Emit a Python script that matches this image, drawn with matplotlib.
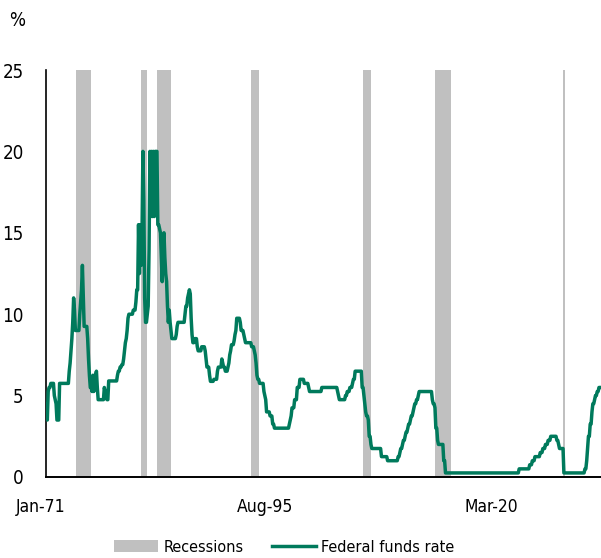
import matplotlib
matplotlib.use('Agg')
import matplotlib.pyplot as plt
import matplotlib.transforms as mtransforms
from matplotlib.patches import Patch
from matplotlib.lines import Line2D
import numpy as np
import pandas as pd

plt.rcParams['font.family'] = ['DejaVu Sans']
plt.rcParams['font.stretch'] = 'condensed'

GREEN = '#007A5C'
GREY = '#C0C0C0'

# fed funds rate: month of each change and the new level (%)
change_dates = [
    '1971-01', '1971-02', '1971-03', '1971-04', '1971-06', '1971-10', '1971-11', '1971-12',
    '1972-01', '1972-04',
    '1973-03', '1973-04', '1973-05', '1973-06', '1973-07', '1973-08', '1973-09', '1973-10',
    '1974-03', '1974-04', '1974-05', '1974-06', '1974-07', '1974-08', '1974-12',
    '1975-01', '1975-02', '1975-03', '1975-05', '1975-06', '1975-07', '1975-08', '1975-09',
    '1975-10', '1975-11', '1975-12',
    '1976-07', '1976-08', '1976-10', '1976-12',
    '1977-10', '1977-11',
    '1978-01', '1978-03', '1978-05', '1978-06', '1978-07', '1978-08', '1978-09', '1978-10', '1978-11',
    '1979-04', '1979-07', '1979-08', '1979-10', '1979-11', '1979-12',
    '1980-01', '1980-02', '1980-03', '1980-04', '1980-05', '1980-06', '1980-08', '1980-09',
    '1980-10', '1980-11', '1980-12',
    '1981-01', '1981-02', '1981-03', '1981-04', '1981-05', '1981-08', '1981-10', '1981-11', '1981-12',
    '1982-01', '1982-02', '1982-03', '1982-04', '1982-05', '1982-06', '1982-07', '1982-08',
    '1982-09', '1982-10', '1982-11', '1982-12',
    '1983-05', '1983-06', '1983-07',
    '1984-03', '1984-04', '1984-06', '1984-07', '1984-08', '1984-09', '1984-10', '1984-11', '1984-12',
    '1985-02', '1985-05', '1985-06', '1985-10',
    '1986-02', '1986-03', '1986-04', '1986-07', '1986-08', '1986-12',
    '1987-04', '1987-05', '1987-09', '1987-10', '1987-11',
    '1988-01', '1988-04', '1988-05', '1988-06', '1988-07', '1988-08', '1988-11', '1988-12',
    '1989-01', '1989-02', '1989-06', '1989-07', '1989-10', '1989-11', '1989-12',
    '1990-07', '1990-10', '1990-11', '1990-12',
    '1991-01', '1991-02', '1991-04', '1991-09', '1991-10', '1991-11', '1991-12',
    '1992-04', '1992-07', '1992-09',
    '1994-02', '1994-03', '1994-04', '1994-05', '1994-08', '1994-11',
    '1995-02', '1995-07', '1995-12',
    '1996-01', '1997-03',
    '1998-09', '1998-10', '1998-11',
    '1999-06', '1999-08', '1999-11',
    '2000-02', '2000-03', '2000-05',
    '2001-01', '2001-03', '2001-04', '2001-05', '2001-06', '2001-08', '2001-09', '2001-11', '2001-12',
    '2002-11', '2003-06',
    '2004-06', '2004-08', '2004-09', '2004-11', '2004-12',
    '2005-02', '2005-03', '2005-05', '2005-06', '2005-08', '2005-09', '2005-11', '2005-12',
    '2006-01', '2006-03', '2006-05', '2006-06',
    '2007-09', '2007-10', '2007-12',
    '2008-01', '2008-03', '2008-04', '2008-10', '2008-12',
    '2015-12', '2016-12',
    '2017-03', '2017-06', '2017-12',
    '2018-03', '2018-06', '2018-09', '2018-12',
    '2019-07', '2019-09', '2019-10',
    '2020-03',
    '2022-03', '2022-05', '2022-06', '2022-07', '2022-09', '2022-11', '2022-12',
    '2023-02', '2023-03', '2023-05', '2023-07',
]
change_rates = [
    4.5, 3.5, 5.25, 5.5, 5.75, 5.0, 4.75, 4.5,
    3.5, 5.75,
    6.5, 7.0, 7.75, 8.5, 9.5, 11.0, 10.25, 9.0,
    10.0, 10.75, 11.5, 13.0, 11.0, 9.25, 8.5,
    7.25, 6.25, 5.5, 5.25, 6.25, 5.25, 5.5, 6.25,
    6.5, 5.5, 4.75,
    5.5, 5.25, 4.75, 5.9,
    6.25, 6.5,
    6.75, 6.9, 7.25, 7.75, 8.25, 8.5, 9.0, 9.75, 10.0,
    10.25, 10.75, 11.5, 15.5, 12.5, 15.5,
    13.0, 15.0, 20.0, 17.0, 11.0, 9.5, 10.0, 10.5,
    14.0, 20.0, 16.0,
    20.0, 16.0, 20.0, 16.0, 20.0, 15.5, 15.25, 15.0, 13.5,
    12.0, 14.0, 15.0, 13.5, 12.5, 12.0, 10.5, 9.5,
    10.25, 9.5, 9.0, 8.5,
    8.75, 9.25, 9.5,
    10.0, 10.5, 11.0, 11.25, 11.5, 11.25, 9.75, 8.75, 8.25,
    8.5, 8.0, 7.75, 8.0,
    7.75, 7.25, 6.75, 6.25, 5.875, 6.0,
    6.5, 6.75, 7.25, 7.0, 6.75,
    6.5, 6.75, 7.0, 7.5, 7.75, 8.125, 8.375, 8.75,
    9.0, 9.75, 9.5, 9.0, 8.75, 8.5, 8.25,
    8.0, 7.75, 7.5, 7.0,
    6.25, 6.0, 5.75, 5.25, 5.0, 4.75, 4.0,
    3.75, 3.25, 3.0,
    3.25, 3.5, 3.75, 4.25, 4.75, 5.5,
    6.0, 5.75, 5.5,
    5.25, 5.5,
    5.25, 5.0, 4.75,
    5.0, 5.25, 5.5,
    5.75, 6.0, 6.5,
    5.5, 5.0, 4.5, 4.0, 3.75, 3.5, 2.5, 2.0, 1.75,
    1.25, 1.0,
    1.25, 1.5, 1.75, 2.0, 2.25,
    2.5, 2.75, 3.0, 3.25, 3.5, 3.75, 4.0, 4.25,
    4.5, 4.75, 5.0, 5.25,
    4.75, 4.5, 4.25,
    3.0, 2.25, 2.0, 1.0, 0.25,
    0.5, 0.75,
    1.0, 1.25, 1.5,
    1.75, 2.0, 2.25, 2.5,
    2.25, 2.0, 1.75,
    0.25,
    0.5, 1.0, 1.75, 2.5, 3.25, 4.0, 4.5,
    4.75, 5.0, 5.25, 5.5,
]
last_month = '2023-08'

# NBER recessions (first and last month)
rec_start = ['1973-11', '1980-01', '1981-07', '1990-07', '2001-03', '2007-12', '2020-02']
rec_end = ['1975-03', '1980-07', '1982-11', '1991-03', '2001-11', '2009-06', '2020-04']

tick_labels = ['Jan-71', 'Aug-95', 'Mar-20']
tick_pos = [-7, 249, 507]


def month_idx(s):
    t = pd.Timestamp(s)
    return (t.year - 1971) * 12 + t.month - 1


months = pd.date_range('1971-01-01', last_month + '-01', freq='MS')
rate = pd.Series(change_rates, index=pd.to_datetime(change_dates))
rate = rate.reindex(months, method='ffill')
x = np.arange(len(months))

fig = plt.figure(figsize=(6.01, 5.58), dpi=100)
ax = fig.add_axes([46 / 601, 1 - 477 / 558, 1 - 46 / 601, (477 - 70) / 558])

for s, e in zip(rec_start, rec_end):
    i0, i1 = month_idx(s), month_idx(e)
    ax.bar(i0 - 0.5, 25, width=i1 - i0 + 1, align='edge', color=GREY, lw=0, zorder=1)

ax.plot(x, rate.values, color=GREEN, lw=2.5, solid_joinstyle='round', zorder=3)

ax.set_xlim(-0.5, 632.3)
ax.set_ylim(0, 25)
ax.set_yticks(range(0, 26, 5))
ax.set_xticks([])
ax.tick_params(axis='y', length=0, labelsize=13.5, pad=16)

# category labels sit below the axis; the first one hangs left of the spine
xlab = mtransforms.blended_transform_factory(ax.transData, ax.transAxes)
for p, lab in zip(tick_pos, tick_labels):
    ax.text(p, -30 / 407, lab, transform=xlab, ha='center', va='center',
            fontsize=12.5, clip_on=False)

for side in ['top', 'right']:
    ax.spines[side].set_visible(False)
ax.spines['left'].set_linewidth(1.2)
ax.spines['bottom'].set_linewidth(1.4)
ax.spines['bottom'].set_zorder(4)

fig.text(17 / 601, 1 - 21 / 558, '%', fontsize=13.5, ha='center', va='center')

handles = [Patch(facecolor=GREY, edgecolor='none', label='Recessions'),
           Line2D([], [], color=GREEN, lw=2.5, label='Federal funds rate')]
fig.legend(handles=handles, loc='center', bbox_to_anchor=(284 / 601, 1 - 547 / 558),
           ncol=2, frameon=False, fontsize=11.6, handlelength=2.75,
           handletextpad=0.3, columnspacing=1.75, borderpad=0, borderaxespad=0)

fig.savefig('out.png', dpi=100)
